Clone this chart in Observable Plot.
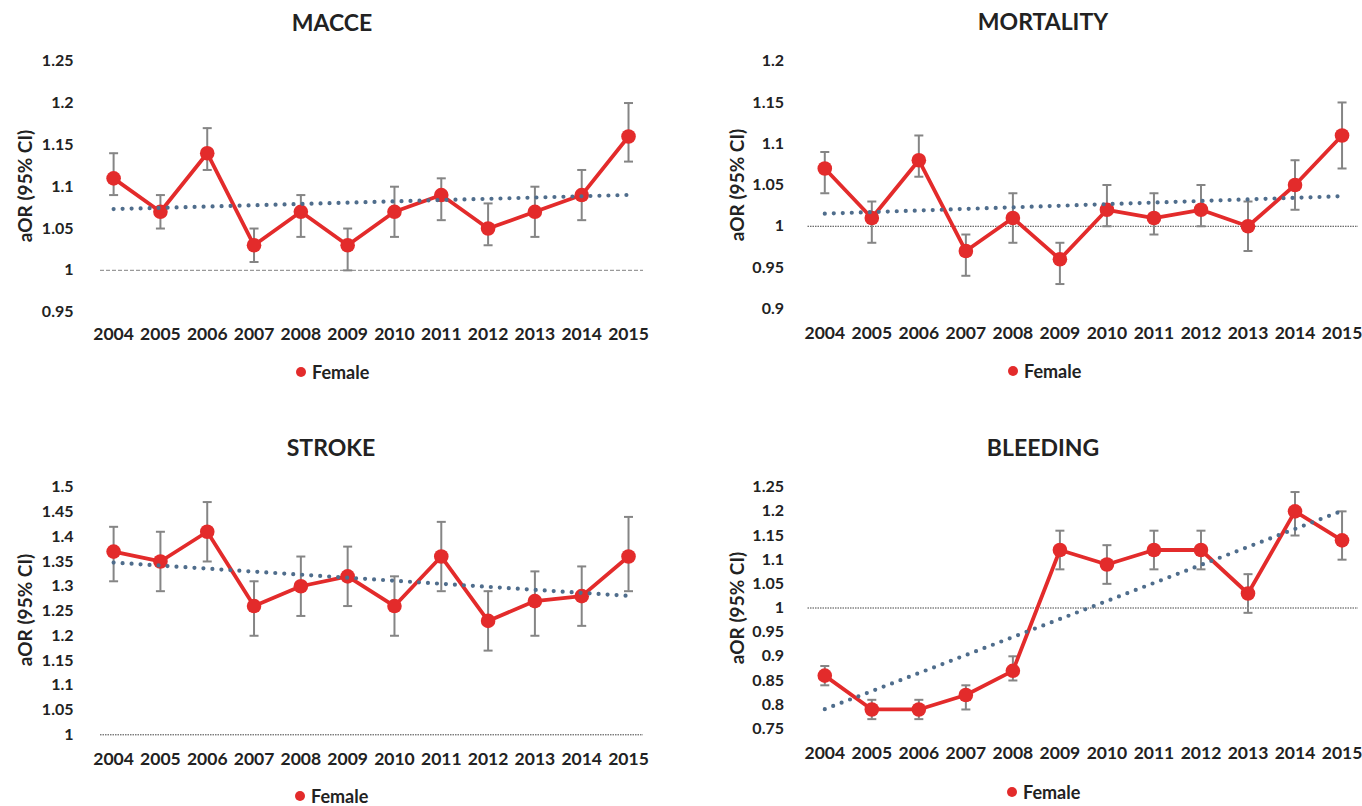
<!DOCTYPE html>
<html>
<head>
<meta charset="utf-8">
<script src="https://cdn.jsdelivr.net/npm/d3@7"></script>
<script src="https://cdn.jsdelivr.net/npm/@observablehq/plot@0.6"></script>
<style>
  html, body { margin: 0; padding: 0; background: #fff; }
  #root { position: relative; width: 1362px; height: 806px; overflow: hidden; font-family: Lato, "Open Sans", sans-serif; color: #222; }
  .abs { position: absolute; }
  .title { font-weight: bold; font-size: 23px; transform: translate(-50%, -50%); white-space: nowrap; }
  .ylab { font-weight: bold; font-size: 19px; transform: translate(-50%, -50%) rotate(-90deg); white-space: nowrap; }
  .legend { font-weight: bold; font-size: 18px; transform: translate(0, -50%); white-space: nowrap; display: flex; align-items: center; }
  .legend .sw { width: 10px; height: 10px; border-radius: 50%; background: #e32b2b; margin-right: 6px; }
</style>
</head>
<body>
<div id="root"></div>
<script>
// ---- data ----
const years = [2004, 2005, 2006, 2007, 2008, 2009, 2010, 2011, 2012, 2013, 2014, 2015];

const macceOR = [1.11, 1.07, 1.14, 1.03, 1.07, 1.03, 1.07, 1.09, 1.05, 1.07, 1.09, 1.16];
const macceLo = [1.09, 1.05, 1.12, 1.01, 1.04, 1.00, 1.04, 1.06, 1.03, 1.04, 1.06, 1.13];
const macceHi = [1.14, 1.09, 1.17, 1.05, 1.09, 1.05, 1.10, 1.11, 1.08, 1.10, 1.12, 1.20];
const macceTicks = [0.95, 1, 1.05, 1.1, 1.15, 1.2, 1.25];

const mortOR = [1.07, 1.01, 1.08, 0.97, 1.01, 0.96, 1.02, 1.01, 1.02, 1.00, 1.05, 1.11];
const mortLo = [1.04, 0.98, 1.06, 0.94, 0.98, 0.93, 1.00, 0.99, 1.00, 0.97, 1.02, 1.07];
const mortHi = [1.09, 1.03, 1.11, 0.99, 1.04, 0.98, 1.05, 1.04, 1.05, 1.03, 1.08, 1.15];
const mortTicks = [0.9, 0.95, 1, 1.05, 1.1, 1.15, 1.2];

const strokeOR = [1.37, 1.35, 1.41, 1.26, 1.30, 1.32, 1.26, 1.36, 1.23, 1.27, 1.28, 1.36];
const strokeLo = [1.31, 1.29, 1.35, 1.20, 1.24, 1.26, 1.20, 1.29, 1.17, 1.20, 1.22, 1.29];
const strokeHi = [1.42, 1.41, 1.47, 1.31, 1.36, 1.38, 1.32, 1.43, 1.29, 1.33, 1.34, 1.44];
const strokeTicks = [1, 1.05, 1.1, 1.15, 1.2, 1.25, 1.3, 1.35, 1.4, 1.45, 1.5];

const bleedOR = [0.86, 0.79, 0.79, 0.82, 0.87, 1.12, 1.09, 1.12, 1.12, 1.03, 1.20, 1.14];
const bleedLo = [0.84, 0.77, 0.77, 0.79, 0.85, 1.08, 1.05, 1.08, 1.08, 0.99, 1.15, 1.10];
const bleedHi = [0.88, 0.81, 0.81, 0.84, 0.90, 1.16, 1.13, 1.16, 1.16, 1.07, 1.24, 1.20];
const bleedTicks = [0.75, 0.8, 0.85, 0.9, 0.95, 1, 1.05, 1.1, 1.15, 1.2, 1.25];

const titles = ["MACCE", "MORTALITY", "STROKE", "BLEEDING"];
const yLabel = "aOR (95% CI)";
const legendLabel = "Female";

// ---- styles ----
const RED = "#e32b2b";
const GREY = "#858585";
const TREND = "#4f6d8c";

const capSymbol = {
  draw(ctx, size) {
    const w = Math.sqrt(size / Math.PI);
    ctx.moveTo(-w, 0);
    ctx.lineTo(w, 0);
  }
};

function makePanel(cfg) {
  const data = years.map((yr, i) => ({year: yr, or: cfg.or[i], lo: cfg.lo[i], hi: cfg.hi[i]}));
  const refMark = cfg.dashedRef
    ? Plot.ruleY([1], {stroke: "#9a9a9a", strokeWidth: 1.4, strokeDasharray: "4 2"})
    : Plot.ruleY([1], {stroke: "#444", strokeWidth: 1, strokeDasharray: "1.5 1"});
  return Plot.plot({
    width: cfg.width,
    height: cfg.height,
    marginLeft: cfg.marginLeft,
    marginRight: cfg.marginRight,
    marginTop: cfg.marginTop,
    marginBottom: cfg.marginBottom,
    style: {fontFamily: "Lato, 'Open Sans', sans-serif", fontWeight: "bold", fontSize: "16px", color: "#222", background: "transparent", overflow: "visible"},
    x: {domain: cfg.xDomain},
    y: {domain: cfg.yDomain},
    marks: [
      Plot.axisY({ticks: cfg.yTicks, tickSize: 0, tickPadding: cfg.padY, tickFormat: d => String(+d.toFixed(2)), label: null, fontSize: 16, fontWeight: "bold"}),
      Plot.axisX({ticks: years, tickSize: 0, tickPadding: cfg.padX, tickFormat: d => String(d), label: null, fontSize: 17.5, fontWeight: "bold"}),
      refMark,
      Plot.ruleX(data, {x: "year", y1: "lo", y2: "hi", stroke: GREY, strokeWidth: 2}),
      Plot.dot(data, {x: "year", y: "lo", symbol: capSymbol, r: 4.5, stroke: GREY, strokeWidth: 2, fill: "none"}),
      Plot.dot(data, {x: "year", y: "hi", symbol: capSymbol, r: 4.5, stroke: GREY, strokeWidth: 2, fill: "none"}),
      Plot.line(data, {x: "year", y: "or", stroke: RED, strokeWidth: 3.8}),
      Plot.dot(data, {x: "year", y: "or", r: 7.3, fill: RED}),
      Plot.linearRegressionY(data, {x: "year", y: "or", ci: 0, stroke: TREND, strokeWidth: 4.2, strokeDasharray: "0 9", strokeLinecap: "round"})
    ]
  });
}

const root = document.getElementById("root");
function place(el, left, top) {
  el.classList.add("abs");
  el.style.left = left + "px";
  el.style.top = top + "px";
  root.appendChild(el);
  return el;
}
function addText(cls, text, x, y) {
  const d = document.createElement("div");
  d.className = cls;
  d.textContent = text;
  return place(d, x, y);
}
function addLegend(x, y) {
  const d = document.createElement("div");
  d.className = "legend";
  const sw = document.createElement("span");
  sw.className = "sw";
  const t = document.createElement("span");
  t.textContent = legendLabel;
  d.appendChild(sw);
  d.appendChild(t);
  return place(d, x, y);
}

const leftX = [2003.72, 2015.32];
const rightX = [2003.643, 2015.35];

const panels = [
  {title: titles[0], or: macceOR, lo: macceLo, hi: macceHi, yDomain: [0.95, 1.25], yTicks: macceTicks,
   xDomain: leftX, left: 0, top: 40, width: 680, height: 310, marginLeft: 100, marginRight: 37, marginTop: 20.7, marginBottom: 38.3,
   padY: 27, padX: 15.5, dashedRef: true, tx: 332, ty: 22, lx: 24, ly: 186, gx: 296, gy: 372},
  {title: titles[1], or: mortOR, lo: mortLo, hi: mortHi, yDomain: [0.9, 1.2], yTicks: mortTicks,
   xDomain: rightX, left: 680, top: 40, width: 682, height: 310, marginLeft: 127.5, marginRight: 4, marginTop: 20.7, marginBottom: 41.7,
   padY: 24, padX: 17.5, dashedRef: false, tx: 1043, ty: 21, lx: 736, ly: 184.5, gx: 1008, gy: 371},
  {title: titles[2], or: strokeOR, lo: strokeLo, hi: strokeHi, yDomain: [1, 1.5], yTicks: strokeTicks,
   xDomain: leftX, left: 0, top: 440, width: 680, height: 340, marginLeft: 100, marginRight: 37, marginTop: 46.7, marginBottom: 45.7,
   padY: 27, padX: 17.5, dashedRef: false, tx: 331, ty: 447, lx: 24, ly: 610, gx: 295, gy: 796},
  {title: titles[3], or: bleedOR, lo: bleedLo, hi: bleedHi, yDomain: [0.75, 1.25], yTicks: bleedTicks,
   xDomain: rightX, left: 680, top: 440, width: 682, height: 340, marginLeft: 127.5, marginRight: 4, marginTop: 46.7, marginBottom: 51.7,
   padY: 24, padX: 17.5, dashedRef: false, tx: 1043, ty: 447, lx: 736, ly: 607.5, gx: 1007, gy: 792}
];

for (const p of panels) {
  const svg = makePanel(p);
  place(svg, p.left, p.top);
  addText("title", p.title, p.tx, p.ty);
  addText("ylab", yLabel, p.lx, p.ly);
  addLegend(p.gx, p.gy);
}
</script>
</body>
</html>
